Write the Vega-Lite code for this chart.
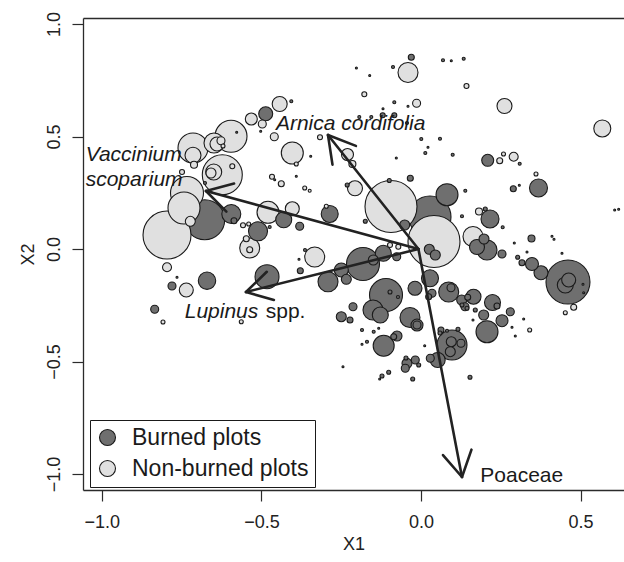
{
"$schema":"https://vega.github.io/schema/vega-lite/v6.json",
"width":541,"height":472,
"autosize":{"type":"none"},
"padding":{"left":83,"top":18,"right":0,"bottom":72},
"background":"white",
"datasets":{
"plots":[
{"x":0.4605,"y":-0.1467,"cover":22,"plot":"Burned plots"},
{"x":0.0282,"y":0.1422,"cover":21,"plot":"Burned plots"},
{"x":-0.6776,"y":0.1302,"cover":20,"plot":"Burned plots"},
{"x":-0.1096,"y":-0.2044,"cover":16.5,"plot":"Burned plots"},
{"x":-0.1817,"y":-0.0667,"cover":16.5,"plot":"Burned plots"},
{"x":0.0971,"y":-0.4267,"cover":15,"plot":"Burned plots"},
{"x":-0.094,"y":0.1889,"cover":26,"plot":"Non-burned plots"},
{"x":0.0407,"y":0.0333,"cover":26,"plot":"Non-burned plots"},
{"x":-0.7957,"y":0.0622,"cover":24,"plot":"Non-burned plots"},
{"x":-0.6225,"y":0.3302,"cover":20,"plot":"Non-burned plots"},
{"x":-0.7331,"y":0.2489,"cover":16.5,"plot":"Non-burned plots"},
{"x":-0.7425,"y":0.1822,"cover":16,"plot":"Non-burned plots"},
{"x":-0.5952,"y":0.5009,"cover":16,"plot":"Non-burned plots"},
{"x":-0.7143,"y":0.4489,"cover":15,"plot":"Non-burned plots"},
{"x":-0.4824,"y":-0.1231,"cover":12,"plot":"Burned plots"},
{"x":-0.4032,"y":0.4267,"cover":11,"plot":"Non-burned plots"},
{"x":-0.4793,"y":0.1631,"cover":11,"plot":"Non-burned plots"},
{"x":0.0815,"y":0.2413,"cover":11,"plot":"Burned plots"},
{"x":0.2068,"y":-0.3676,"cover":11,"plot":"Burned plots"},
{"x":-0.1169,"y":-0.4298,"cover":10.5,"plot":"Burned plots"},
{"x":-0.6485,"y":0.4711,"cover":10,"plot":"Non-burned plots"},
{"x":-0.5366,"y":0.0044,"cover":10,"plot":"Non-burned plots"},
{"x":-0.333,"y":-0.0356,"cover":10,"plot":"Non-burned plots"},
{"x":0.1629,"y":0.0556,"cover":10,"plot":"Non-burned plots"},
{"x":-0.0407,"y":0.7844,"cover":10,"plot":"Non-burned plots"},
{"x":-0.2913,"y":-0.1453,"cover":10,"plot":"Burned plots"},
{"x":0.2068,"y":-0.0044,"cover":10,"plot":"Burned plots"},
{"x":-0.0345,"y":-0.3044,"cover":10,"plot":"Burned plots"},
{"x":0.0868,"y":-0.1911,"cover":10,"plot":"Burned plots"},
{"x":-0.1504,"y":-0.2711,"cover":10,"plot":"Burned plots"},
{"x":-0.5943,"y":0.1556,"cover":9.5,"plot":"Burned plots"},
{"x":-0.5106,"y":0.0787,"cover":9.5,"plot":"Burned plots"},
{"x":0.3681,"y":0.2711,"cover":9,"plot":"Burned plots"},
{"x":0.2162,"y":0.1333,"cover":9,"plot":"Burned plots"},
{"x":-0.6704,"y":-0.1409,"cover":8.7,"plot":"Burned plots"},
{"x":0.568,"y":0.5356,"cover":8.5,"plot":"Non-burned plots"},
{"x":-0.286,"y":0.1556,"cover":8.5,"plot":"Burned plots"},
{"x":0.0282,"y":-0.1302,"cover":8.5,"plot":"Burned plots"},
{"x":-0.7143,"y":0.4164,"cover":8,"plot":"Non-burned plots"},
{"x":-0.6494,"y":0.3422,"cover":8,"plot":"Non-burned plots"},
{"x":-0.4301,"y":0.1302,"cover":8,"plot":"Burned plots"},
{"x":-0.1181,"y":-0.0191,"cover":8,"plot":"Burned plots"},
{"x":-0.1275,"y":-0.2933,"cover":8,"plot":"Burned plots"},
{"x":0.224,"y":-0.2378,"cover":8,"plot":"Burned plots"},
{"x":0.4521,"y":-0.16,"cover":8,"plot":"Burned plots"},
{"x":-0.4427,"y":0.6444,"cover":7.5,"plot":"Non-burned plots"},
{"x":0.2616,"y":0.6356,"cover":7.5,"plot":"Non-burned plots"},
{"x":-0.2068,"y":0.2698,"cover":7.5,"plot":"Non-burned plots"},
{"x":0.1645,"y":-0.212,"cover":7.5,"plot":"Burned plots"},
{"x":0.0523,"y":-0.4933,"cover":7.5,"plot":"Burned plots"},
{"x":0.1754,"y":0.0089,"cover":7.5,"plot":"Burned plots"},
{"x":-0.6391,"y":0.4667,"cover":7,"plot":"Non-burned plots"},
{"x":-0.4032,"y":0.1791,"cover":7,"plot":"Non-burned plots"},
{"x":-0.7353,"y":-0.1822,"cover":7,"plot":"Non-burned plots"},
{"x":-0.4865,"y":0.6013,"cover":7,"plot":"Burned plots"},
{"x":-0.2497,"y":-0.0933,"cover":7,"plot":"Burned plots"},
{"x":0.3759,"y":-0.1053,"cover":7,"plot":"Burned plots"},
{"x":-0.0188,"y":-0.1747,"cover":7,"plot":"Burned plots"},
{"x":0.4627,"y":-0.1378,"cover":7,"plot":"Burned plots"},
{"x":0.3477,"y":-0.0667,"cover":6.5,"plot":"Burned plots"},
{"x":-0.5316,"y":0.5778,"cover":6,"plot":"Non-burned plots"},
{"x":-0.2303,"y":0.42,"cover":6,"plot":"Non-burned plots"},
{"x":0.209,"y":0.3942,"cover":6,"plot":"Burned plots"},
{"x":-0.0125,"y":-0.3378,"cover":6,"plot":"Burned plots"},
{"x":0.2538,"y":-0.3187,"cover":6,"plot":"Burned plots"},
{"x":-0.6579,"y":0.3378,"cover":5,"plot":"Non-burned plots"},
{"x":-0.7227,"y":0.1231,"cover":5,"plot":"Non-burned plots"},
{"x":-0.0511,"y":0.1067,"cover":5,"plot":"Burned plots"},
{"x":0.026,"y":-0.0013,"cover":5,"plot":"Burned plots"},
{"x":0.0448,"y":-0.0267,"cover":5,"plot":"Burned plots"},
{"x":0.1974,"y":0.0444,"cover":5,"plot":"Burned plots"},
{"x":-0.1494,"y":-0.0489,"cover":5,"plot":"Burned plots"},
{"x":-0.234,"y":-0.1347,"cover":5,"plot":"Burned plots"},
{"x":-0.2497,"y":-0.3009,"cover":5,"plot":"Burned plots"},
{"x":0.1964,"y":-0.2933,"cover":5,"plot":"Burned plots"},
{"x":-0.0752,"y":-0.3867,"cover":5,"plot":"Burned plots"},
{"x":-0.0439,"y":-0.508,"cover":5,"plot":"Burned plots"},
{"x":0.0949,"y":-0.412,"cover":5,"plot":"Burned plots"},
{"x":0.0918,"y":-0.4564,"cover":5,"plot":"Burned plots"},
{"x":0.1275,"y":-0.2267,"cover":5,"plot":"Burned plots"},
{"x":-0.7957,"y":-0.0813,"cover":4.5,"plot":"Non-burned plots"},
{"x":0.2904,"y":0.4102,"cover":4.5,"plot":"Non-burned plots"},
{"x":-0.4972,"y":0.5556,"cover":4,"plot":"Non-burned plots"},
{"x":-0.4596,"y":0.4991,"cover":4,"plot":"Non-burned plots"},
{"x":-0.6266,"y":0.4813,"cover":4,"plot":"Non-burned plots"},
{"x":-0.0138,"y":0.6476,"cover":4,"plot":"Non-burned plots"},
{"x":-0.38,"y":0.1009,"cover":4,"plot":"Burned plots"},
{"x":-0.7801,"y":-0.1644,"cover":4,"plot":"Burned plots"},
{"x":-0.8343,"y":-0.268,"cover":4,"plot":"Burned plots"},
{"x":-0.213,"y":-0.2564,"cover":4,"plot":"Burned plots"},
{"x":0.0345,"y":-0.1969,"cover":4,"plot":"Burned plots"},
{"x":0.2538,"y":-0.0222,"cover":4,"plot":"Burned plots"},
{"x":0.2798,"y":-0.2787,"cover":4,"plot":"Burned plots"},
{"x":0.1253,"y":-0.4191,"cover":4,"plot":"Burned plots"},
{"x":0.0291,"y":-0.4858,"cover":4,"plot":"Burned plots"},
{"x":-0.0179,"y":-0.4933,"cover":4,"plot":"Burned plots"},
{"x":-0.0492,"y":-0.5302,"cover":4,"plot":"Burned plots"},
{"x":-0.0761,"y":-0.0342,"cover":4,"plot":"Burned plots"},
{"x":0.1378,"y":-0.2564,"cover":4,"plot":"Burned plots"},
{"x":0.094,"y":-0.172,"cover":4,"plot":"Burned plots"},
{"x":-0.0125,"y":-0.3378,"cover":4,"plot":"Burned plots"},
{"x":-0.7111,"y":0.3747,"cover":3.5,"plot":"Non-burned plots"},
{"x":-0.2149,"y":0.3778,"cover":3.5,"plot":"Non-burned plots"},
{"x":0.1817,"y":0.1667,"cover":3.5,"plot":"Non-burned plots"},
{"x":0.3462,"y":0.0467,"cover":3.5,"plot":"Burned plots"},
{"x":-0.5366,"y":-0.0031,"cover":3,"plot":"Non-burned plots"},
{"x":-0.5473,"y":0.0458,"cover":3,"plot":"Non-burned plots"},
{"x":-0.4377,"y":0.2902,"cover":3,"plot":"Non-burned plots"},
{"x":0.4784,"y":-0.2591,"cover":3,"plot":"Non-burned plots"},
{"x":0.2466,"y":0.3924,"cover":3,"plot":"Non-burned plots"},
{"x":-0.5858,"y":0.1258,"cover":3,"plot":"Burned plots"},
{"x":-0.3781,"y":-0.0964,"cover":3,"plot":"Burned plots"},
{"x":-0.0304,"y":0.852,"cover":3,"plot":"Burned plots"},
{"x":-0.0335,"y":0.3142,"cover":3,"plot":"Burned plots"},
{"x":0.2892,"y":0.268,"cover":3,"plot":"Burned plots"},
{"x":0.3164,"y":-0.0609,"cover":3,"plot":"Burned plots"},
{"x":0.0241,"y":-0.212,"cover":3,"plot":"Burned plots"},
{"x":0.1463,"y":-0.2147,"cover":3,"plot":"Burned plots"},
{"x":0.2381,"y":-0.2533,"cover":3,"plot":"Burned plots"},
{"x":-0.0855,"y":-0.3898,"cover":3,"plot":"Burned plots"},
{"x":0.0627,"y":-0.36,"cover":3,"plot":"Burned plots"},
{"x":-0.2224,"y":-0.3156,"cover":3,"plot":"Burned plots"},
{"x":-0.3164,"y":0.4964,"cover":2.5,"plot":"Non-burned plots"},
{"x":-0.5576,"y":0.1053,"cover":2.5,"plot":"Non-burned plots"},
{"x":-0.5912,"y":0.3676,"cover":2.5,"plot":"Non-burned plots"},
{"x":-0.7487,"y":0.3422,"cover":2.5,"plot":"Non-burned plots"},
{"x":-0.4668,"y":0.3213,"cover":2.5,"plot":"Non-burned plots"},
{"x":-0.1776,"y":0.6876,"cover":2.5,"plot":"Non-burned plots"},
{"x":0.1425,"y":0.7244,"cover":2.5,"plot":"Non-burned plots"},
{"x":-0.0971,"y":0.0178,"cover":2.5,"plot":"Non-burned plots"},
{"x":-0.0711,"y":0.0102,"cover":2.5,"plot":"Non-burned plots"},
{"x":-0.12,"y":0.5942,"cover":2.5,"plot":"Burned plots"},
{"x":-0.0836,"y":0.5942,"cover":2.5,"plot":"Burned plots"},
{"x":-0.5398,"y":0.1111,"cover":2,"plot":"Non-burned plots"},
{"x":-0.6203,"y":0.4578,"cover":2,"plot":"Non-burned plots"},
{"x":-0.2967,"y":0.1898,"cover":2,"plot":"Non-burned plots"},
{"x":-0.3643,"y":0.2711,"cover":2,"plot":"Non-burned plots"},
{"x":-0.3907,"y":0.3778,"cover":2,"plot":"Non-burned plots"},
{"x":-0.8083,"y":-0.3244,"cover":2,"plot":"Non-burned plots"},
{"x":-0.563,"y":-0.3231,"cover":2,"plot":"Non-burned plots"},
{"x":0.2585,"y":0.4222,"cover":2,"plot":"Non-burned plots"},
{"x":0.3603,"y":0.3333,"cover":2,"plot":"Non-burned plots"},
{"x":0.3405,"y":-0.36,"cover":2,"plot":"Non-burned plots"},
{"x":0.4521,"y":-0.2831,"cover":2,"plot":"Non-burned plots"},
{"x":0.2014,"y":0.1778,"cover":2,"plot":"Burned plots"},
{"x":-0.1745,"y":0.1231,"cover":2,"plot":"Burned plots"},
{"x":-0.0993,"y":0.3044,"cover":2,"plot":"Burned plots"},
{"x":-0.2312,"y":0.2844,"cover":2,"plot":"Burned plots"},
{"x":0.3029,"y":-0.0369,"cover":2,"plot":"Burned plots"},
{"x":-0.1012,"y":-0.548,"cover":2,"plot":"Burned plots"},
{"x":-0.1222,"y":-0.5644,"cover":2,"plot":"Burned plots"},
{"x":-0.026,"y":-0.5778,"cover":2,"plot":"Burned plots"},
{"x":0.1535,"y":-0.5702,"cover":2,"plot":"Burned plots"},
{"x":-0.0072,"y":-0.5156,"cover":2,"plot":"Burned plots"},
{"x":-0.047,"y":-0.4844,"cover":2,"plot":"Burned plots"},
{"x":0.1284,"y":-0.2489,"cover":2,"plot":"Burned plots"},
{"x":0.1441,"y":-0.2636,"cover":2,"plot":"Burned plots"},
{"x":0.1701,"y":-0.2711,"cover":2,"plot":"Burned plots"},
{"x":0.0595,"y":-0.3733,"cover":2,"plot":"Burned plots"},
{"x":0.1159,"y":-0.3569,"cover":2,"plot":"Burned plots"},
{"x":-0.0971,"y":-0.1911,"cover":2,"plot":"Burned plots"},
{"x":-0.4063,"y":0.6564,"cover":1.5,"plot":"Burned plots"},
{"x":-0.6767,"y":0.2933,"cover":1.5,"plot":"Burned plots"},
{"x":-0.474,"y":0.0978,"cover":1.5,"plot":"Burned plots"},
{"x":-0.3487,"y":0.2591,"cover":1.5,"plot":"Non-burned plots"},
{"x":-0.0877,"y":0.8089,"cover":1.5,"plot":"Burned plots"},
{"x":0.0689,"y":0.8387,"cover":1.5,"plot":"Burned plots"},
{"x":0.1338,"y":0.8458,"cover":1.5,"plot":"Burned plots"},
{"x":-0.0836,"y":0.652,"cover":1.5,"plot":"Burned plots"},
{"x":0.0009,"y":0.4889,"cover":1.5,"plot":"Burned plots"},
{"x":0.0135,"y":0.4267,"cover":1.5,"plot":"Burned plots"},
{"x":0.0595,"y":0.4902,"cover":1.5,"plot":"Burned plots"},
{"x":0.0993,"y":0.4191,"cover":1.5,"plot":"Burned plots"},
{"x":0.3092,"y":0.3791,"cover":1.5,"plot":"Burned plots"},
{"x":0.1388,"y":0.2591,"cover":1.5,"plot":"Burned plots"},
{"x":0.1284,"y":0.1453,"cover":1.5,"plot":"Burned plots"},
{"x":0.2559,"y":0.0964,"cover":1.5,"plot":"Burned plots"},
{"x":-0.1848,"y":-0.36,"cover":1.5,"plot":"Burned plots"},
{"x":-0.1482,"y":-0.3676,"cover":1.5,"plot":"Burned plots"},
{"x":-0.1692,"y":-0.412,"cover":1.5,"plot":"Burned plots"},
{"x":0.0815,"y":-0.3631,"cover":1.5,"plot":"Burned plots"},
{"x":-0.0721,"y":-0.2133,"cover":1.5,"plot":"Burned plots"},
{"x":-0.3634,"y":-0.0044,"cover":1.5,"plot":"Burned plots"},
{"x":-0.1933,"y":0.5867,"cover":1.5,"plot":"Burned plots"},
{"x":-0.1557,"y":0.5867,"cover":1.5,"plot":"Burned plots"},
{"x":-0.0439,"y":0.56,"cover":1.5,"plot":"Burned plots"},
{"x":-0.5022,"y":0.5231,"cover":1,"plot":"Burned plots"},
{"x":-0.5774,"y":0.5187,"cover":1,"plot":"Burned plots"},
{"x":-0.4583,"y":0.308,"cover":1,"plot":"Burned plots"},
{"x":-0.3455,"y":0.412,"cover":1,"plot":"Burned plots"},
{"x":-0.3907,"y":0.3231,"cover":1,"plot":"Burned plots"},
{"x":-0.2024,"y":0.8044,"cover":1,"plot":"Burned plots"},
{"x":-0.1607,"y":0.7711,"cover":1,"plot":"Burned plots"},
{"x":0.0949,"y":0.8369,"cover":1,"plot":"Burned plots"},
{"x":-0.0407,"y":0.6342,"cover":1,"plot":"Burned plots"},
{"x":-0.119,"y":0.6236,"cover":1,"plot":"Burned plots"},
{"x":0.0219,"y":0.452,"cover":1,"plot":"Burned plots"},
{"x":-0.0774,"y":0.4044,"cover":1,"plot":"Burned plots"},
{"x":0.308,"y":0.2831,"cover":1,"plot":"Burned plots"},
{"x":0.6068,"y":0.1733,"cover":1,"plot":"Burned plots"},
{"x":0.6193,"y":0.1764,"cover":1,"plot":"Burned plots"},
{"x":0.4104,"y":0.0564,"cover":1,"plot":"Burned plots"},
{"x":0.4167,"y":0.0431,"cover":1,"plot":"Burned plots"},
{"x":0.2923,"y":0.0267,"cover":1,"plot":"Burned plots"},
{"x":0.3321,"y":-0.0133,"cover":1,"plot":"Burned plots"},
{"x":0.4417,"y":-0.0191,"cover":1,"plot":"Burned plots"},
{"x":0.5075,"y":-0.1569,"cover":1,"plot":"Burned plots"},
{"x":0.5097,"y":-0.1942,"cover":1,"plot":"Burned plots"},
{"x":0.3217,"y":-0.3111,"cover":1,"plot":"Burned plots"},
{"x":0.2851,"y":-0.348,"cover":1,"plot":"Burned plots"},
{"x":0.2954,"y":-0.3867,"cover":1,"plot":"Burned plots"},
{"x":0.1629,"y":-0.3156,"cover":1,"plot":"Burned plots"},
{"x":-0.1325,"y":-0.3524,"cover":1,"plot":"Burned plots"},
{"x":-0.1848,"y":-0.4236,"cover":1,"plot":"Burned plots"},
{"x":-0.1294,"y":-0.5778,"cover":1,"plot":"Burned plots"},
{"x":-0.2444,"y":-0.5231,"cover":1,"plot":"Burned plots"},
{"x":0.0116,"y":-0.4298,"cover":1,"plot":"Burned plots"},
{"x":-0.7644,"y":-0.1258,"cover":1,"plot":"Burned plots"},
{"x":-0.3822,"y":-0.0458,"cover":1,"plot":"Burned plots"}
],
"segments":[
{"taxon":"Arnica cordifolia","x":-0.008,"y":0,"xend":-0.2914,"yend":0.5067},
{"taxon":"Arnica cordifolia","x":-0.2914,"y":0.5067,"xend":-0.2773,"yend":0.3751},
{"taxon":"Arnica cordifolia","x":-0.2914,"y":0.5067,"xend":-0.2039,"yend":0.4582},
{"taxon":"Vaccinium scoparium","x":-0.008,"y":0,"xend":-0.6736,"yend":0.2578},
{"taxon":"Vaccinium scoparium","x":-0.6736,"y":0.2578,"xend":-0.6097,"yend":0.1662},
{"taxon":"Vaccinium scoparium","x":-0.6736,"y":0.2578,"xend":-0.5855,"yend":0.2907},
{"taxon":"Lupinus spp.","x":-0.008,"y":0,"xend":-0.5482,"yend":-0.1911},
{"taxon":"Lupinus spp.","x":-0.5482,"y":-0.1911,"xend":-0.4608,"yend":-0.2267},
{"taxon":"Lupinus spp.","x":-0.5482,"y":-0.1911,"xend":-0.4831,"yend":-0.1013},
{"taxon":"Poaceae","x":-0.008,"y":0,"xend":0.1284,"yend":-1.0133},
{"taxon":"Poaceae","x":0.1284,"y":-1.0133,"xend":0.1582,"yend":-0.8916},
{"taxon":"Poaceae","x":0.1284,"y":-1.0133,"xend":0.0689,"yend":-0.916}
],
"taxa_italic":[
{"label":"Arnica cordifolia","x":-0.4545,"y":0.5311},
{"label":"Vaccinium","x":-1.0505,"y":0.3924},
{"label":"scoparium","x":-1.0505,"y":0.2813},
{"label":"Lupinus","x":-0.7402,"y":-0.3053}
],
"taxa_plain":[
{"label":"spp.","x":-0.4865,"y":-0.3053},
{"label":"Poaceae","x":0.1858,"y":-1.0342}
]
},
"resolve":{"axis":{"x":"independent"}},
"layer":[
{"data":{"name":"plots"},
 "mark":{"type":"point","shape":"circle","filled":true,"opacity":1,"stroke":"#1a1a1a","strokeWidth":1.1},
 "encoding":{
  "x":{"field":"x","type":"quantitative","scale":{"domain":[-1.0589,0.636],"nice":false,"zero":false},
       "axis":{"values":[-1,-0.5,0,0.5],"format":".1f","labelPadding":12,"title":"X1","titlePadding":4,"labelFlush":false,"labelOverlap":false}},
  "y":{"field":"y","type":"quantitative","scale":{"domain":[-1.0711,1.0267],"nice":false,"zero":false},
       "axis":{"values":[-1,-0.5,0,0.5,1],"format":".1f","labelAngle":-90,"labelAlign":"center","labelBaseline":"bottom","labelPadding":9,"title":"X2","titlePadding":8,"labelFlush":false,"labelOverlap":false}},
  "size":{"field":"cover","type":"quantitative","scale":{"type":"pow","exponent":2,"domain":[0,25],"range":[0,2500]},"legend":null},
  "fill":{"field":"plot","type":"nominal","scale":{"domain":["Burned plots","Non-burned plots"],"range":["#6f6f6f","#e0e0e0"]},
       "legend":{"title":null,"orient":"none","legendX":7,"legendY":402,"padding":6,"rowPadding":7,"labelFontSize":23,"labelOffset":13,"labelLimit":400,"labelFont":"Liberation Sans","labelColor":"#1a1a1a","symbolSize":256,"symbolType":"circle","symbolStrokeColor":"#1a1a1a","symbolStrokeWidth":1.1,"strokeColor":"#1a1a1a","fillColor":"white",
                 "encode":{"legend":{"update":{"strokeWidth":{"value":1.5}}}}}}
 }},
{"data":{"name":"segments"},
 "mark":{"type":"rule","stroke":"#222222","strokeWidth":2.6,"strokeCap":"round"},
 "encoding":{
  "x":{"field":"x","type":"quantitative","scale":{"domain":[-1.0589,0.636],"nice":false,"zero":false},
       "axis":{"orient":"top","labels":false,"ticks":false,"title":null,"domain":true}},
  "y":{"field":"y","type":"quantitative","scale":{"domain":[-1.0711,1.0267],"nice":false,"zero":false},
       "axis":{"values":[-1,-0.5,0,0.5,1],"format":".1f","labelAngle":-90,"labelAlign":"center","labelBaseline":"bottom","labelPadding":9,"title":"X2","titlePadding":8,"labelFlush":false,"labelOverlap":false}},
  "x2":{"field":"xend"},
  "y2":{"field":"yend"}
 }},
{"data":{"name":"taxa_italic"},
 "mark":{"type":"text","align":"left","baseline":"alphabetic","fontSize":21,"fontStyle":"italic","font":"Liberation Sans","color":"#1a1a1a"},
 "encoding":{
  "x":{"field":"x","type":"quantitative","scale":{"domain":[-1.0589,0.636],"nice":false,"zero":false},"axis":null},
  "y":{"field":"y","type":"quantitative","scale":{"domain":[-1.0711,1.0267],"nice":false,"zero":false},
       "axis":{"values":[-1,-0.5,0,0.5,1],"format":".1f","labelAngle":-90,"labelAlign":"center","labelBaseline":"bottom","labelPadding":9,"title":"X2","titlePadding":8,"labelFlush":false,"labelOverlap":false}},
  "text":{"field":"label"}
 }},
{"data":{"name":"taxa_plain"},
 "mark":{"type":"text","align":"left","baseline":"alphabetic","fontSize":21,"font":"Liberation Sans","color":"#1a1a1a"},
 "encoding":{
  "x":{"field":"x","type":"quantitative","scale":{"domain":[-1.0589,0.636],"nice":false,"zero":false},"axis":null},
  "y":{"field":"y","type":"quantitative","scale":{"domain":[-1.0711,1.0267],"nice":false,"zero":false},
       "axis":{"values":[-1,-0.5,0,0.5,1],"format":".1f","labelAngle":-90,"labelAlign":"center","labelBaseline":"bottom","labelPadding":9,"title":"X2","titlePadding":8,"labelFlush":false,"labelOverlap":false}},
  "text":{"field":"label"}
 }}
],
"config":{
 "font":"Liberation Sans",
 "view":{"stroke":null},
 "axis":{"grid":false,"domainColor":"#2b2b2b","domainWidth":1.3,"tickColor":"#2b2b2b","tickWidth":1.2,"tickSize":11,
   "labelFont":"Liberation Sans","labelFontSize":18,"labelColor":"#222222",
   "titleFont":"Liberation Sans","titleFontSize":18,"titleFontWeight":"normal","titleColor":"#222222"}
}
}
